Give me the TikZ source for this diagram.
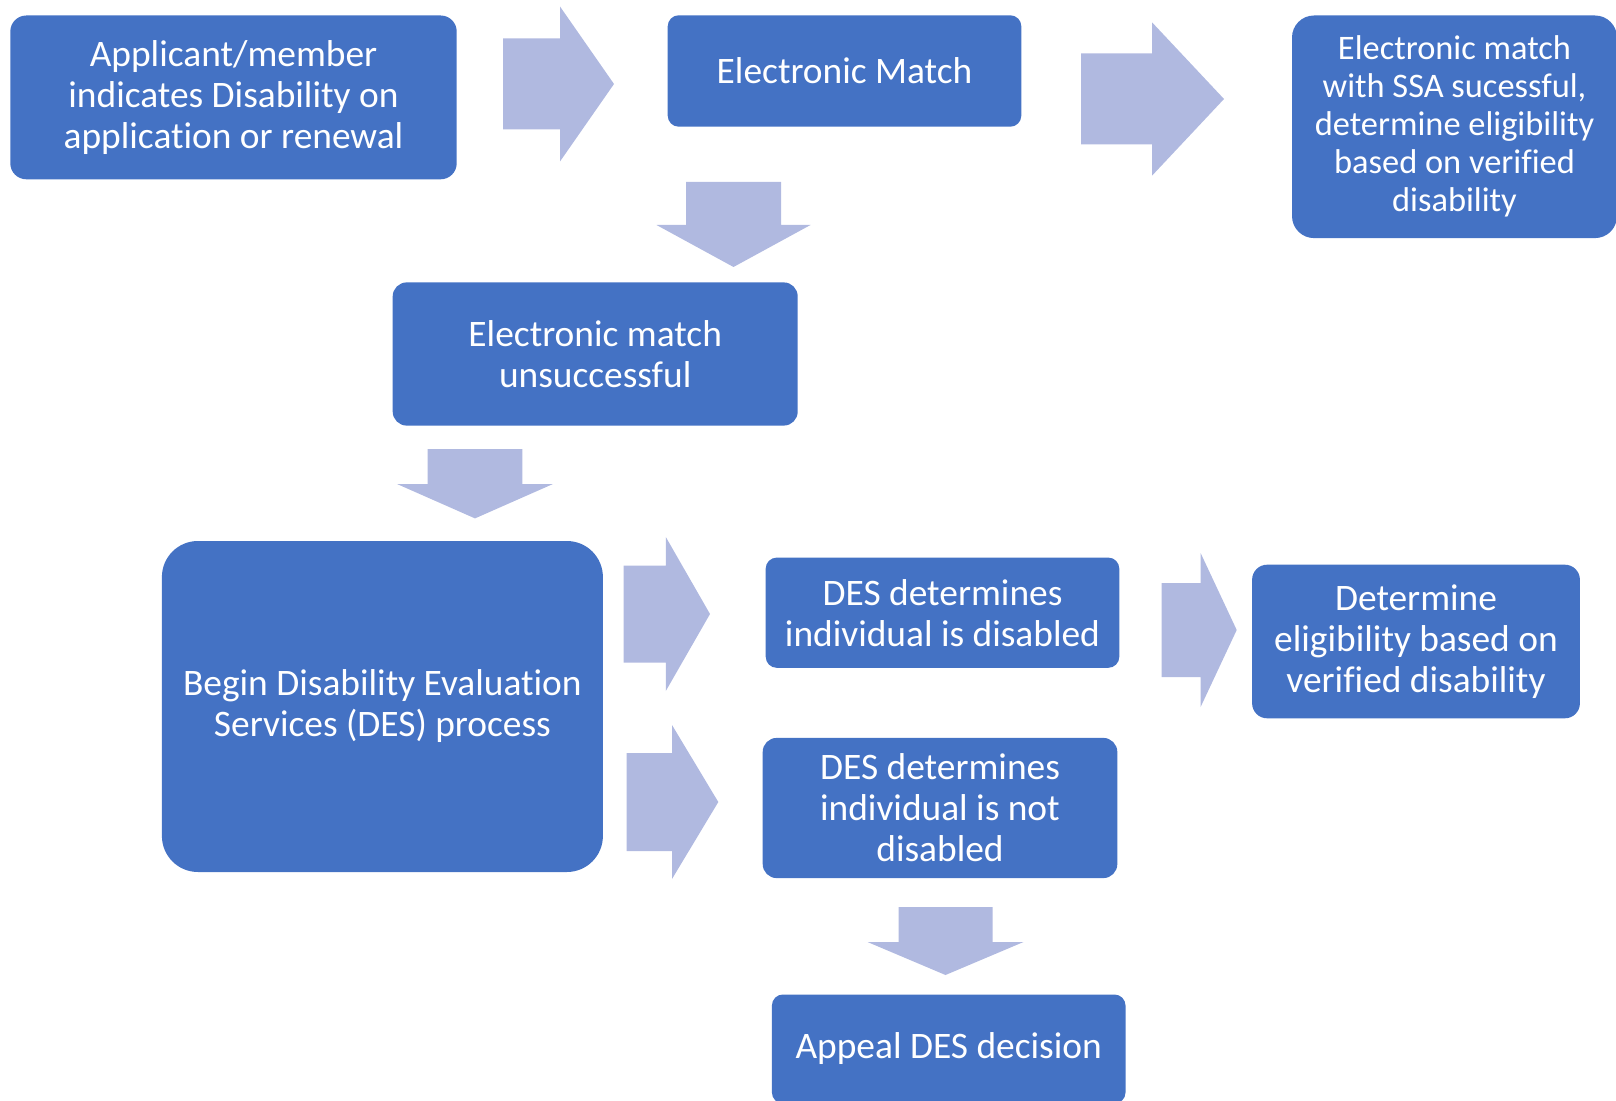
\documentclass[tikz,border=0pt]{standalone}
\usepackage{fontspec}
\setmainfont{Carlito}[Ligatures=NoCommon]
\definecolor{boxblue}{RGB}{68,114,196}
\definecolor{arrowblue}{RGB}{176,185,224}
\tikzset{
  stepbox/.style={rectangle, fill=boxblue, text=white, align=center, inner sep=0pt,
    font=\fontsize{18.7}{20.5}\selectfont},
  blockarrow/.style={fill=arrowblue},
}
% block arrows: tail, head base, tip, middle, half body, half head
\newcommand{\arrowright}[6]{\fill[blockarrow] (#1,#4-#5) -- (#2,#4-#5) -- (#2,#4-#6) -- (#3,#4) -- (#2,#4+#6) -- (#2,#4+#5) -- (#1,#4+#5) -- cycle;}
\newcommand{\arrowdown}[6]{\fill[blockarrow] (#4-#5,#1) -- (#4-#5,#2) -- (#4-#6,#2) -- (#4,#3) -- (#4+#6,#2) -- (#4+#5,#2) -- (#4+#5,#1) -- cycle;}
\begin{document}
\begin{tikzpicture}[x=0.5pt, y=-0.5pt]
  \useasboundingbox (0,0) rectangle (1616,1101);
  \clip (0,0) rectangle (1616,1101);
  % boxes
  \node[stepbox, minimum width=223.2pt, minimum height=81.9pt, rounded corners=8pt] (app) at (233.5,97.4)
    {Applicant/member\\indicates Disability on\\application or renewal};
  \node[stepbox, minimum width=176.8pt, minimum height=55.7pt, rounded corners=5.5pt] (ematch) at (844.5,71)
    {Electronic Match};
  \node[stepbox, minimum width=162.5pt, minimum height=111.3pt, rounded corners=11pt,
    font=\fontsize{17.2}{19}\selectfont] (ssa) at (1454.5,126.8)
    {Electronic match\\with SSA sucessful,\\determine eligibility\\based on verified\\disability};
  \node[stepbox, minimum width=202.5pt, minimum height=71.6pt, rounded corners=7pt] (unsucc) at (595.2,354)
    {Electronic match\\unsuccessful};
  \node[stepbox, minimum width=220.5pt, minimum height=165.5pt, rounded corners=18pt] (des) at (382.4,706.5)
    {Begin Disability Evaluation\\Services (DES) process};
  \node[stepbox, minimum width=176.8pt, minimum height=55.1pt, rounded corners=5.5pt] (disabled) at (942.5,612.7)
    {DES determines\\individual is disabled};
  \node[stepbox, minimum width=163.9pt, minimum height=76.8pt, rounded corners=7.5pt] (elig) at (1416,641.5)
    {Determine\\eligibility based on\\verified disability};
  \node[stepbox, minimum width=177.3pt, minimum height=70.1pt, rounded corners=7pt] (notdis) at (940,808)
    {DES determines\\individual is not\\disabled};
  \node[stepbox, minimum width=176.8pt, minimum height=54.5pt, rounded corners=5.5pt] (appeal) at (948.7,1049)
    {Appeal DES decision};
  % arrows
  \arrowright{503}{560}{614}{84}{45.5}{77.5}
  \arrowright{1081}{1152}{1224}{99}{45.5}{76.7}
  \arrowdown{182}{225}{267}{733.5}{47.5}{77}
  \arrowdown{449}{484}{518.4}{475}{47.4}{78}
  \arrowright{623.5}{665.8}{710}{614}{48.5}{77}
  \arrowright{626.6}{672}{718.3}{802}{49}{77}
  \arrowright{1161.5}{1200.6}{1236.7}{630}{47}{77}
  \arrowdown{907}{942}{975}{945.5}{47}{78}
\end{tikzpicture}
\end{document}
